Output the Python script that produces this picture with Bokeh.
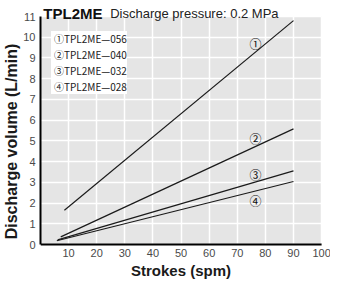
from bokeh.plotting import figure
from bokeh.models import Label, Legend, LegendItem, FixedTicker, BoxAnnotation
from bokeh.embed import file_html
from bokeh.resources import INLINE
from bokeh.core.properties import value

# ---- data ----
models = ["TPL2ME—056", "TPL2ME—040", "TPL2ME—032", "TPL2ME—028"]
marks = ["①", "②", "③", "④"]
strokes_start = [8.5, 7.2, 6.1, 5.8]
strokes_end = [90, 90, 90, 90]
volume_start = [1.65, 0.37, 0.22, 0.18]
volume_end = [10.8, 5.58, 3.55, 3.04]
mark_strokes = [76.5, 76.5, 76.5, 76.5]
mark_volume = [9.7, 5.1, 3.4, 2.1]
x_ticks = [10, 20, 30, 40, 50, 60, 70, 80, 90, 100]
y_ticks = [0, 1, 2, 3, 4, 5, 6, 7, 8, 9, 10, 11]

FONT = "Liberation Sans"
CJK = "Noto Sans CJK JP"
X_MIN, X_MAX = 0, x_ticks[-1]
Y_MIN, Y_MAX = y_ticks[0], y_ticks[-1]
# the frame fills the canvas; room outside the grey area holds titles / x labels
X_LO, X_HI = 0, 103.17
Y_LO, Y_HI = -1.833, 11.772

p = figure(width=330, height=282, x_range=(X_LO, X_HI), y_range=(Y_LO, Y_HI),
           output_backend="svg", toolbar_location=None,
           min_border_left=37, min_border_right=0,
           min_border_top=0, min_border_bottom=0)

p.background_fill_color = "white"
p.border_fill_color = "white"
p.outline_line_color = None

# grey plotting area
p.add_layout(BoxAnnotation(left=X_MIN, right=X_MAX, bottom=Y_MIN, top=Y_MAX,
                           fill_color="#e5e5e5", fill_alpha=1,
                           line_color=None, level="image"))

# y axis (regular, left panel)
yax = p.yaxis[0]
yax.axis_line_color = "black"
yax.axis_line_width = 2
yax.major_tick_line_color = None
yax.minor_tick_line_color = None
yax.major_tick_out = 0
yax.major_tick_in = 0
yax.minor_tick_out = 0
yax.minor_tick_in = 0
yax.major_label_text_font = FONT
yax.major_label_text_font_size = "11px"
yax.major_label_text_color = "#4a4a4a"
yax.major_label_standoff = 5
yax.ticker = FixedTicker(ticks=y_ticks)
yax.bounds = (Y_MIN, Y_MAX)
yax.axis_label = "Discharge volume (L/min)"
yax.axis_label_text_font = FONT
yax.axis_label_text_font_size = "16px"
yax.axis_label_text_font_style = "bold"
yax.axis_label_text_color = "#1a1a1a"
yax.axis_label_standoff = 0

# x axis drawn inside the frame
p.xaxis.visible = False

p.xgrid.ticker = FixedTicker(ticks=x_ticks)
p.ygrid.ticker = FixedTicker(ticks=y_ticks)
p.grid.grid_line_color = "white"
p.grid.grid_line_width = 1.5
p.xgrid.cross_bounds = (Y_MIN, Y_MAX)
p.ygrid.cross_bounds = (X_MIN, X_MAX)

p.line(x=[X_MIN, X_MAX], y=[Y_MIN, Y_MIN], line_color="black", line_width=2)
p.text(x=x_ticks, y=[Y_MIN] * len(x_ticks), text=[str(t) for t in x_ticks],
       y_offset=4, text_align="center", text_baseline="top",
       text_font=value(FONT), text_font_size="11px", text_color="#4a4a4a")
p.add_layout(Label(x=(X_MIN + X_MAX) / 2, y=Y_LO + 0.58, text="Strokes (spm)",
                   text_font=FONT, text_font_style="bold", text_font_size="15px",
                   text_color="#1a1a1a", text_align="center",
                   text_baseline="alphabetic"))

items = []
for i in range(len(models)):
    r = p.line(x=[strokes_start[i], strokes_end[i]], y=[volume_start[i], volume_end[i]],
               line_color="#1a1a1a", line_width=1.2)
    items.append(LegendItem(label=marks[i] + models[i], renderers=[r]))

legend = Legend(items=items, location=(11, 188), padding=3,
                glyph_width=0, glyph_height=15, label_height=15, spacing=1,
                label_standoff=3,
                background_fill_color="white", background_fill_alpha=1,
                border_line_color=None,
                label_text_font=CJK, label_text_font_size="10px",
                label_text_color="#222222")
p.add_layout(legend)

p.text(x=mark_strokes, y=mark_volume, text=marks,
       text_font=value(CJK), text_font_size="12px",
       text_align="center", text_baseline="middle", text_color="#111111")

p.add_layout(Label(x=1.0, y=Y_MAX + 0.14, text="TPL2ME", text_font=FONT,
                   text_font_style="bold", text_font_size="15px",
                   text_color="#111111", text_baseline="alphabetic"))
p.add_layout(Label(x=24.8, y=Y_MAX + 0.14, text="Discharge pressure: 0.2 MPa",
                   text_font=FONT, text_font_size="13px", text_color="#222222",
                   text_baseline="alphabetic"))

open("out.html", "w").write(file_html(p, INLINE))
